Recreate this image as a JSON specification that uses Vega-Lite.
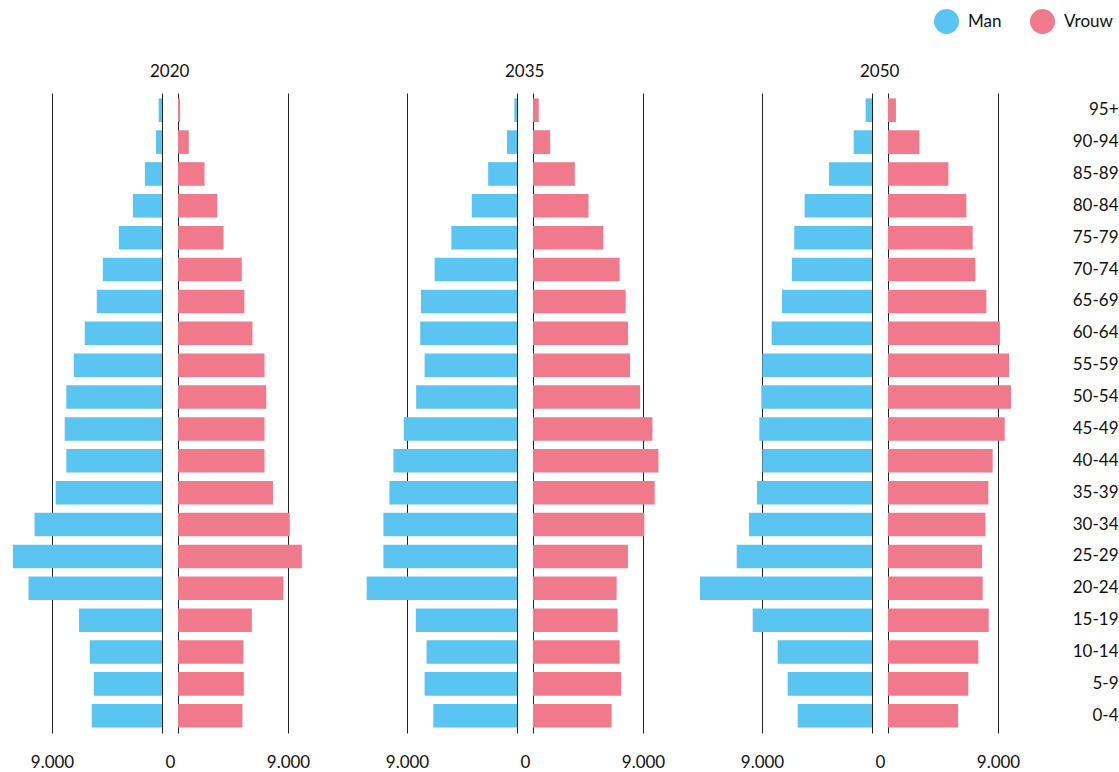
{
  "$schema": "https://vega.github.io/schema/vega-lite/v6.json",
  "padding": {"left": 0, "right": 0, "top": 9, "bottom": 0},
  "config": {
    "font": "Lato",
    "view": {"stroke": null},
    "locale": {"number": {"decimal": ",", "thousands": ".", "grouping": [3], "currency": ["€", ""]}},
    "title": {"fontSize": 17, "fontWeight": "normal", "color": "#111111", "offset": 12, "anchor": "start", "dx": -12}
  },
  "datasets": {
    "pop": [
      {"year": 2020, "age": "95+", "sex": "Man", "value": 270},
      {"year": 2020, "age": "90-94", "sex": "Man", "value": 490},
      {"year": 2020, "age": "85-89", "sex": "Man", "value": 1400},
      {"year": 2020, "age": "80-84", "sex": "Man", "value": 2380},
      {"year": 2020, "age": "75-79", "sex": "Man", "value": 3530},
      {"year": 2020, "age": "70-74", "sex": "Man", "value": 4840},
      {"year": 2020, "age": "65-69", "sex": "Man", "value": 5340},
      {"year": 2020, "age": "60-64", "sex": "Man", "value": 6320},
      {"year": 2020, "age": "55-59", "sex": "Man", "value": 7220},
      {"year": 2020, "age": "50-54", "sex": "Man", "value": 7830},
      {"year": 2020, "age": "45-49", "sex": "Man", "value": 7960},
      {"year": 2020, "age": "40-44", "sex": "Man", "value": 7830},
      {"year": 2020, "age": "35-39", "sex": "Man", "value": 8700},
      {"year": 2020, "age": "30-34", "sex": "Man", "value": 10430},
      {"year": 2020, "age": "25-29", "sex": "Man", "value": 12200},
      {"year": 2020, "age": "20-24", "sex": "Man", "value": 10920},
      {"year": 2020, "age": "15-19", "sex": "Man", "value": 6790},
      {"year": 2020, "age": "10-14", "sex": "Man", "value": 5910},
      {"year": 2020, "age": "5-9", "sex": "Man", "value": 5580},
      {"year": 2020, "age": "0-4", "sex": "Man", "value": 5750},
      {"year": 2020, "age": "95+", "sex": "Vrouw", "value": 170},
      {"year": 2020, "age": "90-94", "sex": "Vrouw", "value": 880},
      {"year": 2020, "age": "85-89", "sex": "Vrouw", "value": 2170},
      {"year": 2020, "age": "80-84", "sex": "Vrouw", "value": 3210},
      {"year": 2020, "age": "75-79", "sex": "Vrouw", "value": 3730},
      {"year": 2020, "age": "70-74", "sex": "Vrouw", "value": 5220},
      {"year": 2020, "age": "65-69", "sex": "Vrouw", "value": 5430},
      {"year": 2020, "age": "60-64", "sex": "Vrouw", "value": 6090},
      {"year": 2020, "age": "55-59", "sex": "Vrouw", "value": 7080},
      {"year": 2020, "age": "50-54", "sex": "Vrouw", "value": 7220},
      {"year": 2020, "age": "45-49", "sex": "Vrouw", "value": 7080},
      {"year": 2020, "age": "40-44", "sex": "Vrouw", "value": 7080},
      {"year": 2020, "age": "35-39", "sex": "Vrouw", "value": 7770},
      {"year": 2020, "age": "30-34", "sex": "Vrouw", "value": 9140},
      {"year": 2020, "age": "25-29", "sex": "Vrouw", "value": 10130},
      {"year": 2020, "age": "20-24", "sex": "Vrouw", "value": 8620},
      {"year": 2020, "age": "15-19", "sex": "Vrouw", "value": 6040},
      {"year": 2020, "age": "10-14", "sex": "Vrouw", "value": 5350},
      {"year": 2020, "age": "5-9", "sex": "Vrouw", "value": 5380},
      {"year": 2020, "age": "0-4", "sex": "Vrouw", "value": 5270},
      {"year": 2035, "age": "95+", "sex": "Man", "value": 220},
      {"year": 2035, "age": "90-94", "sex": "Man", "value": 820},
      {"year": 2035, "age": "85-89", "sex": "Man", "value": 2360},
      {"year": 2035, "age": "80-84", "sex": "Man", "value": 3700},
      {"year": 2035, "age": "75-79", "sex": "Man", "value": 5370},
      {"year": 2035, "age": "70-74", "sex": "Man", "value": 6740},
      {"year": 2035, "age": "65-69", "sex": "Man", "value": 7860},
      {"year": 2035, "age": "60-64", "sex": "Man", "value": 7920},
      {"year": 2035, "age": "55-59", "sex": "Man", "value": 7560},
      {"year": 2035, "age": "50-54", "sex": "Man", "value": 8250},
      {"year": 2035, "age": "45-49", "sex": "Man", "value": 9260},
      {"year": 2035, "age": "40-44", "sex": "Man", "value": 10110},
      {"year": 2035, "age": "35-39", "sex": "Man", "value": 10440},
      {"year": 2035, "age": "30-34", "sex": "Man", "value": 10930},
      {"year": 2035, "age": "25-29", "sex": "Man", "value": 10930},
      {"year": 2035, "age": "20-24", "sex": "Man", "value": 12300},
      {"year": 2035, "age": "15-19", "sex": "Man", "value": 8280},
      {"year": 2035, "age": "10-14", "sex": "Man", "value": 7400},
      {"year": 2035, "age": "5-9", "sex": "Man", "value": 7560},
      {"year": 2035, "age": "0-4", "sex": "Man", "value": 6850},
      {"year": 2035, "age": "95+", "sex": "Vrouw", "value": 470},
      {"year": 2035, "age": "90-94", "sex": "Vrouw", "value": 1400},
      {"year": 2035, "age": "85-89", "sex": "Vrouw", "value": 3420},
      {"year": 2035, "age": "80-84", "sex": "Vrouw", "value": 4540},
      {"year": 2035, "age": "75-79", "sex": "Vrouw", "value": 5750},
      {"year": 2035, "age": "70-74", "sex": "Vrouw", "value": 7090},
      {"year": 2035, "age": "65-69", "sex": "Vrouw", "value": 7580},
      {"year": 2035, "age": "60-64", "sex": "Vrouw", "value": 7770},
      {"year": 2035, "age": "55-59", "sex": "Vrouw", "value": 7940},
      {"year": 2035, "age": "50-54", "sex": "Vrouw", "value": 8760},
      {"year": 2035, "age": "45-49", "sex": "Vrouw", "value": 9770},
      {"year": 2035, "age": "40-44", "sex": "Vrouw", "value": 10260},
      {"year": 2035, "age": "35-39", "sex": "Vrouw", "value": 9960},
      {"year": 2035, "age": "30-34", "sex": "Vrouw", "value": 9110},
      {"year": 2035, "age": "25-29", "sex": "Vrouw", "value": 7770},
      {"year": 2035, "age": "20-24", "sex": "Vrouw", "value": 6840},
      {"year": 2035, "age": "15-19", "sex": "Vrouw", "value": 6920},
      {"year": 2035, "age": "10-14", "sex": "Vrouw", "value": 7090},
      {"year": 2035, "age": "5-9", "sex": "Vrouw", "value": 7200},
      {"year": 2035, "age": "0-4", "sex": "Vrouw", "value": 6430},
      {"year": 2050, "age": "95+", "sex": "Man", "value": 520},
      {"year": 2050, "age": "90-94", "sex": "Man", "value": 1500},
      {"year": 2050, "age": "85-89", "sex": "Man", "value": 3520},
      {"year": 2050, "age": "80-84", "sex": "Man", "value": 5510},
      {"year": 2050, "age": "75-79", "sex": "Man", "value": 6360},
      {"year": 2050, "age": "70-74", "sex": "Man", "value": 6550},
      {"year": 2050, "age": "65-69", "sex": "Man", "value": 7370},
      {"year": 2050, "age": "60-64", "sex": "Man", "value": 8210},
      {"year": 2050, "age": "55-59", "sex": "Man", "value": 8970},
      {"year": 2050, "age": "50-54", "sex": "Man", "value": 9060},
      {"year": 2050, "age": "45-49", "sex": "Man", "value": 9220},
      {"year": 2050, "age": "40-44", "sex": "Man", "value": 8970},
      {"year": 2050, "age": "35-39", "sex": "Man", "value": 9410},
      {"year": 2050, "age": "30-34", "sex": "Man", "value": 10070},
      {"year": 2050, "age": "25-29", "sex": "Man", "value": 11070},
      {"year": 2050, "age": "20-24", "sex": "Man", "value": 14070},
      {"year": 2050, "age": "15-19", "sex": "Man", "value": 9760},
      {"year": 2050, "age": "10-14", "sex": "Man", "value": 7720},
      {"year": 2050, "age": "5-9", "sex": "Man", "value": 6900},
      {"year": 2050, "age": "0-4", "sex": "Man", "value": 6080},
      {"year": 2050, "age": "95+", "sex": "Vrouw", "value": 650},
      {"year": 2050, "age": "90-94", "sex": "Vrouw", "value": 2570},
      {"year": 2050, "age": "85-89", "sex": "Vrouw", "value": 4940},
      {"year": 2050, "age": "80-84", "sex": "Vrouw", "value": 6410},
      {"year": 2050, "age": "75-79", "sex": "Vrouw", "value": 6930},
      {"year": 2050, "age": "70-74", "sex": "Vrouw", "value": 7150},
      {"year": 2050, "age": "65-69", "sex": "Vrouw", "value": 8050},
      {"year": 2050, "age": "60-64", "sex": "Vrouw", "value": 9160},
      {"year": 2050, "age": "55-59", "sex": "Vrouw", "value": 9900},
      {"year": 2050, "age": "50-54", "sex": "Vrouw", "value": 10060},
      {"year": 2050, "age": "45-49", "sex": "Vrouw", "value": 9550},
      {"year": 2050, "age": "40-44", "sex": "Vrouw", "value": 8560},
      {"year": 2050, "age": "35-39", "sex": "Vrouw", "value": 8210},
      {"year": 2050, "age": "30-34", "sex": "Vrouw", "value": 7970},
      {"year": 2050, "age": "25-29", "sex": "Vrouw", "value": 7690},
      {"year": 2050, "age": "20-24", "sex": "Vrouw", "value": 7750},
      {"year": 2050, "age": "15-19", "sex": "Vrouw", "value": 8240},
      {"year": 2050, "age": "10-14", "sex": "Vrouw", "value": 7390},
      {"year": 2050, "age": "5-9", "sex": "Vrouw", "value": 6570},
      {"year": 2050, "age": "0-4", "sex": "Vrouw", "value": 5730}
    ]
  },
  "spacing": 0,
  "bounds": "flush",
  "hconcat": [
    {
      "data": {"name": "pop"},
      "transform": [{"filter": "datum.year == 2020 && datum.sex == 'Man'"}],
      "width": 162, "height": 640,
      "mark": {"type": "bar"},
      "encoding": {
        "y": {"field": "age", "type": "ordinal", "sort": ["95+","90-94","85-89","80-84","75-79","70-74","65-69","60-64","55-59","50-54","45-49","40-44","35-39","30-34","25-29","20-24","15-19","10-14","5-9","0-4"], "scale": {"paddingInner": 0.26, "paddingOuter": 0.17}, "axis": null},
        "x": {"field": "value", "type": "quantitative", "scale": {"domain": [0, 13254.5], "reverse": true, "nice": false, "zero": false},
          "axis": {"values": [0, 9000], "format": ",d", "domain": false, "ticks": false, "grid": true, "gridColor": "#222222", "gridWidth": 1, "labelFontSize": 17, "labelColor": "#111111", "labelPadding": 21, "labelFlush": false, "labelOverlap": false, "title": null, "labelOffset": {"condition": {"test": "datum.value == 0", "value": 8}, "value": 0}}},
        "color": {"field": "sex", "type": "nominal", "scale": {"domain": ["Man", "Vrouw"], "range": ["#5BC5F2", "#F07A8B"]},
          "legend": {"orient": "none", "legendX": 934, "legendY": -84, "direction": "horizontal", "title": null, "symbolType": "circle", "symbolSize": 625, "symbolStrokeWidth": 0, "symbolOpacity": 1, "labelFontSize": 17, "labelColor": "#111111", "labelOffset": 9, "columnPadding": 28}}
      }
    },
    {
      "data": {"name": "pop"},
      "transform": [{"filter": "datum.year == 2020 && datum.sex == 'Vrouw'"}],
      "title": {"text": "2020"},
      "width": 191, "height": 640,
      "mark": {"type": "bar"},
      "encoding": {
        "y": {"field": "age", "type": "ordinal", "sort": ["95+","90-94","85-89","80-84","75-79","70-74","65-69","60-64","55-59","50-54","45-49","40-44","35-39","30-34","25-29","20-24","15-19","10-14","5-9","0-4"], "scale": {"paddingInner": 0.26, "paddingOuter": 0.17}, "axis": null},
        "x": {"field": "value", "type": "quantitative", "scale": {"domain": [-1309.1, 14318.2], "nice": false, "zero": false},
          "axis": {"values": [0, 9000], "format": ",d", "domain": false, "ticks": false, "grid": true, "gridColor": "#222222", "gridWidth": 1, "labelFontSize": 17, "labelColor": "#111111", "labelPadding": 21, "labelFlush": false, "labelOverlap": false, "title": null, "labelExpr": "datum.value == 0 ? '' : datum.label"}},
        "color": {"field": "sex", "type": "nominal", "scale": {"domain": ["Man", "Vrouw"], "range": ["#5BC5F2", "#F07A8B"]}}
      }
    },
    {
      "data": {"name": "pop"},
      "transform": [{"filter": "datum.year == 2035 && datum.sex == 'Man'"}],
      "width": 164, "height": 640,
      "mark": {"type": "bar"},
      "encoding": {
        "y": {"field": "age", "type": "ordinal", "sort": ["95+","90-94","85-89","80-84","75-79","70-74","65-69","60-64","55-59","50-54","45-49","40-44","35-39","30-34","25-29","20-24","15-19","10-14","5-9","0-4"], "scale": {"paddingInner": 0.26, "paddingOuter": 0.17}, "axis": null},
        "x": {"field": "value", "type": "quantitative", "scale": {"domain": [0, 13418.2], "reverse": true, "nice": false, "zero": false},
          "axis": {"values": [0, 9000], "format": ",d", "domain": false, "ticks": false, "grid": true, "gridColor": "#222222", "gridWidth": 1, "labelFontSize": 17, "labelColor": "#111111", "labelPadding": 21, "labelFlush": false, "labelOverlap": false, "title": null, "labelOffset": {"condition": {"test": "datum.value == 0", "value": 8}, "value": 0}}},
        "color": {"field": "sex", "type": "nominal", "scale": {"domain": ["Man", "Vrouw"], "range": ["#5BC5F2", "#F07A8B"]}}
      }
    },
    {
      "data": {"name": "pop"},
      "transform": [{"filter": "datum.year == 2035 && datum.sex == 'Vrouw'"}],
      "title": {"text": "2035"},
      "width": 191, "height": 640,
      "mark": {"type": "bar"},
      "encoding": {
        "y": {"field": "age", "type": "ordinal", "sort": ["95+","90-94","85-89","80-84","75-79","70-74","65-69","60-64","55-59","50-54","45-49","40-44","35-39","30-34","25-29","20-24","15-19","10-14","5-9","0-4"], "scale": {"paddingInner": 0.26, "paddingOuter": 0.17}, "axis": null},
        "x": {"field": "value", "type": "quantitative", "scale": {"domain": [-1309.1, 14318.2], "nice": false, "zero": false},
          "axis": {"values": [0, 9000], "format": ",d", "domain": false, "ticks": false, "grid": true, "gridColor": "#222222", "gridWidth": 1, "labelFontSize": 17, "labelColor": "#111111", "labelPadding": 21, "labelFlush": false, "labelOverlap": false, "title": null, "labelExpr": "datum.value == 0 ? '' : datum.label"}},
        "color": {"field": "sex", "type": "nominal", "scale": {"domain": ["Man", "Vrouw"], "range": ["#5BC5F2", "#F07A8B"]}}
      }
    },
    {
      "data": {"name": "pop"},
      "transform": [{"filter": "datum.year == 2050 && datum.sex == 'Man'"}],
      "width": 164, "height": 640,
      "mark": {"type": "bar"},
      "encoding": {
        "y": {"field": "age", "type": "ordinal", "sort": ["95+","90-94","85-89","80-84","75-79","70-74","65-69","60-64","55-59","50-54","45-49","40-44","35-39","30-34","25-29","20-24","15-19","10-14","5-9","0-4"], "scale": {"paddingInner": 0.26, "paddingOuter": 0.17}, "axis": null},
        "x": {"field": "value", "type": "quantitative", "scale": {"domain": [0, 13418.2], "reverse": true, "nice": false, "zero": false},
          "axis": {"values": [0, 9000], "format": ",d", "domain": false, "ticks": false, "grid": true, "gridColor": "#222222", "gridWidth": 1, "labelFontSize": 17, "labelColor": "#111111", "labelPadding": 21, "labelFlush": false, "labelOverlap": false, "title": null, "labelOffset": {"condition": {"test": "datum.value == 0", "value": 8}, "value": 0}}},
        "color": {"field": "sex", "type": "nominal", "scale": {"domain": ["Man", "Vrouw"], "range": ["#5BC5F2", "#F07A8B"]}}
      }
    },
    {
      "data": {"name": "pop"},
      "transform": [{"filter": "datum.year == 2050 && datum.sex == 'Vrouw'"}],
      "title": {"text": "2050"},
      "width": 180, "height": 640,
      "mark": {"type": "bar"},
      "encoding": {
        "y": {"field": "age", "type": "ordinal", "sort": ["95+","90-94","85-89","80-84","75-79","70-74","65-69","60-64","55-59","50-54","45-49","40-44","35-39","30-34","25-29","20-24","15-19","10-14","5-9","0-4"], "scale": {"paddingInner": 0.26, "paddingOuter": 0.17},
          "axis": {"orient": "right", "domain": false, "ticks": false, "grid": false, "labelAlign": "right", "labelPadding": 66, "labelFontSize": 17, "labelColor": "#111111", "title": null}},
        "x": {"field": "value", "type": "quantitative", "scale": {"domain": [-1309.1, 13418.2], "nice": false, "zero": false},
          "axis": {"values": [0, 9000], "format": ",d", "domain": false, "ticks": false, "grid": true, "gridColor": "#222222", "gridWidth": 1, "labelFontSize": 17, "labelColor": "#111111", "labelPadding": 21, "labelFlush": false, "labelOverlap": false, "title": null, "labelExpr": "datum.value == 0 ? '' : datum.label"}},
        "color": {"field": "sex", "type": "nominal", "scale": {"domain": ["Man", "Vrouw"], "range": ["#5BC5F2", "#F07A8B"]}}
      }
    }
  ]
}
